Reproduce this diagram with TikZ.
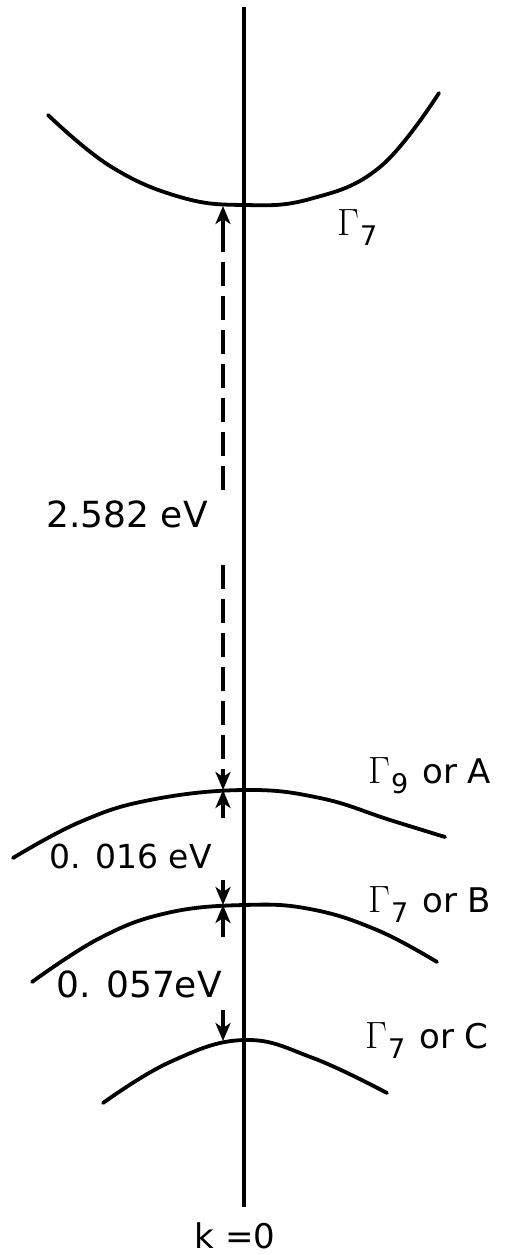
\documentclass[tikz,border=0pt]{standalone}
\usepackage{fontspec}
\setmainfont{DejaVu Sans}
\newfontfamily\lmrfont{Latin Modern Roman}
\usetikzlibrary{arrows.meta}
\newcommand{\Gsub}[1]{{\lmrfont\fontsize{38}{40}\selectfont Γ}\kern1pt\raisebox{-10pt}{\fontsize{27}{28}\selectfont #1}}
\tikzset{
  band/.style={line width=3.8pt, line cap=round},
  axisline/.style={line width=3.8pt},
  arr/.style={line width=3.2pt, -{Stealth[length=18pt,width=15pt,inset=5pt]}},
  dline/.style={line width=3.2pt, dash pattern=on 24pt off 10pt},
  lab/.style={font=\fontsize{34}{36}\selectfont, inner sep=0pt},
}
\begin{document}
\begin{tikzpicture}[x=1pt,y=-1pt]
\useasboundingbox (0,0) rectangle (522,1255);
% k=0 axis
\coordinate (ktop) at (244,7);
\coordinate (kbot) at (244,1207);
\draw[axisline] (ktop) -- (kbot);
\node[lab, anchor=base] (k) at (235,1248) {k =0};
% bands
\draw[band] plot[smooth, tension=0.7] coordinates {(48,115) (110,166) (180,197) (244,205) (310,199) (380,167) (439,93)};
\draw[band] plot[smooth, tension=0.7] coordinates {(13,858) (80,822) (150,800) (244,790) (320,798) (390,820) (445,837)};
\draw[band] plot[smooth, tension=0.7] coordinates {(32,982) (100,938) (167,913) (244,905) (310,909) (377,930) (437,962)};
\draw[band] plot[smooth, tension=0.7] coordinates {(103,1103) (170,1062) (244,1040) (313,1058) (387,1093)};
% band extrema on arrow line
\coordinate (c7) at (223,206);
\coordinate (a9) at (223,790);
\coordinate (b7) at (223,905);
\coordinate (cc7) at (223,1041);
% 2.582 eV dashed arrow
\coordinate (d1) at (223,228);
\coordinate (d2) at (223,490);
\coordinate (d3) at (223,565);
\coordinate (d4) at (223,770);
\draw[arr] (d1) -- (c7);
\draw[dline] (d1) -- (d2);
\draw[dline] (d3) -- (d4);
\draw[arr] (d4) -- (a9);
% 0.016 eV
\coordinate (e1) at (223,818);
\coordinate (e2) at (223,880);
\draw[arr] (e1) -- (a9);
\draw[arr] (e2) -- (b7);
% 0.057 eV
\coordinate (f1) at (223,937);
\coordinate (f2) at (223,1010);
\draw[arr] (f1) -- (b7);
\draw[arr] (f2) -- (cc7);
% energy labels
\node[lab, font=\fontsize{36}{38}\selectfont, anchor=base east] (l1) at (208,527) {2.582 eV};
\node[lab, font=\fontsize{33}{36}\selectfont, anchor=base east] (l2) at (212,868) {0. 016 eV};
\node[lab, font=\fontsize{36}{38}\selectfont, anchor=base east] (l3) at (222,997) {0. 057eV};
% band labels
\node[lab, anchor=base west] (g1) at (337,235) {\Gsub{7}};
\node[lab, anchor=base west] (g2) at (368,783) {\Gsub{9}\hspace{14pt}or A};
\node[lab, anchor=base west] (g3) at (368,912) {\Gsub{7}\hspace{14pt}or B};
\node[lab, anchor=base west] (g4) at (365,1048) {\Gsub{7}\hspace{14pt}or C};
\end{tikzpicture}
\end{document}
